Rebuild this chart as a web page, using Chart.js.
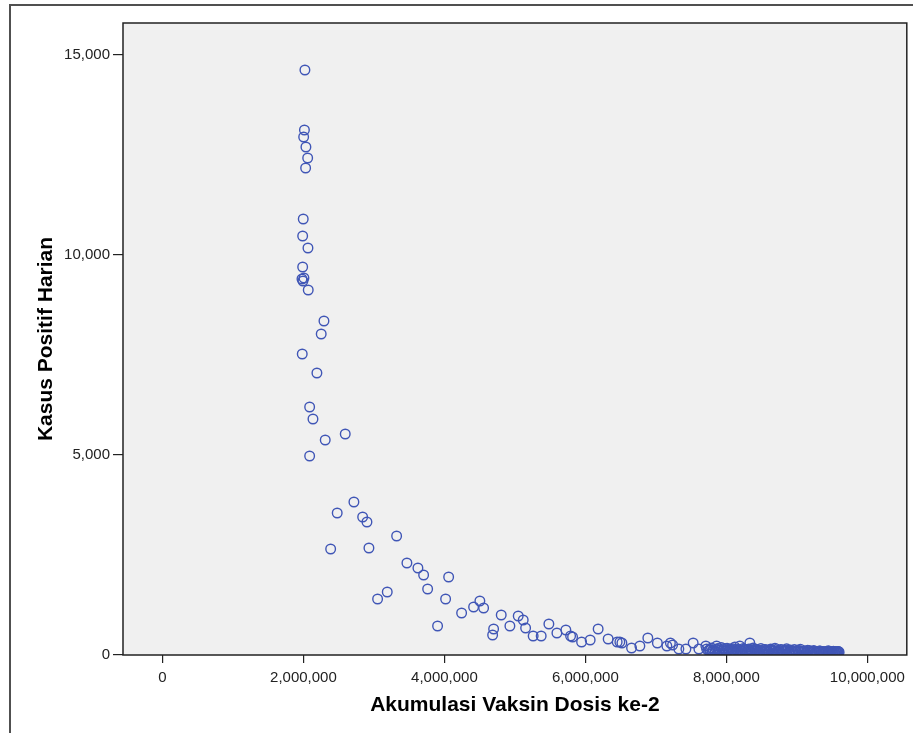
<!DOCTYPE html>
<html>
<head>
<meta charset="utf-8">
<script src="https://cdn.jsdelivr.net/npm/chart.js@4/dist/chart.umd.min.js"></script>
<style>
	html, body { margin: 0; padding: 0; background: #fff; }
	canvas { display: block; }
</style>
</head>
<body>
<canvas id="grafik" width="913" height="733"></canvas>
<script>
// [akumulasi vaksin dosis ke-2, kasus positif harian]
const puncak = [
	[2021000, 14625], [2014000, 13125], [2003000, 12950], [2035000, 12700], [2060000, 12425],
	[2031000, 12175], [1997000, 10900], [1989000, 10475], [2064000, 10175], [1989000, 9700],
	[1979000, 9400], [2007000, 9425], [1993000, 9350], [2068000, 9125], [2291000, 8350],
	[2252000, 8025], [1983000, 7525], [2191000, 7050], [2088000, 6200], [2135000, 5900],
	[2309000, 5375], [2593000, 5525], [2088000, 4975]
];

const penurunan = [
	[2386000, 2650], [2479000, 3550], [2716000, 3825], [2840000, 3450], [2901000, 3325],
	[2929000, 2675], [3322000, 2975], [3052000, 1400], [3189000, 1575], [3468000, 2300],
	[3624000, 2175], [3705000, 2000], [3762000, 1650], [4060000, 1950], [4017000, 1400],
	[3903000, 725], [4244000, 1050], [4414000, 1200], [4503000, 1350], [4556000, 1175],
	[4806000, 1000], [4698000, 650], [4684000, 500], [4929000, 725], [5047000, 975],
	[5118000, 875], [5152000, 675], [5259000, 475], [5373000, 475], [5482000, 775],
	[5596000, 550], [5723000, 625], [5790000, 475], [5818000, 450], [5946000, 325],
	[6068000, 375], [6181000, 650], [6323000, 400], [6451000, 325], [6489000, 325],
	[6518000, 300], [6655000, 175], [6773000, 225], [6886000, 425], [7021000, 300],
	[7156000, 225], [7206000, 300], [7237000, 250], [7326000, 150], [7426000, 150],
	[7529000, 300], [7610000, 150], [7709000, 225], [7773000, 125], [7861000, 225],
	[8191000, 225], [8333000, 300]
];

const ekor = [
	[7720000, 150], [7745000, 110], [7790000, 175], [7815000, 130], [7840000, 95],
	[7880000, 160], [7905000, 120], [7930000, 185], [7960000, 140], [7985000, 105],
	[8010000, 170], [8040000, 125], [8065000, 90], [8090000, 155], [8120000, 200],
	[8150000, 115], [8175000, 145], [8210000, 100], [8240000, 165], [8265000, 130],
	[8290000, 85], [8320000, 150], [8350000, 120], [8380000, 175], [8405000, 95],
	[8435000, 140], [8460000, 110], [8490000, 160], [8520000, 80], [8545000, 135],
	[8575000, 125], [8600000, 95], [8630000, 150], [8660000, 105], [8690000, 170],
	[8715000, 85], [8745000, 120], [8770000, 140], [8800000, 90], [8830000, 115],
	[8855000, 155], [8885000, 80], [8910000, 125], [8940000, 100], [8965000, 135],
	[8995000, 70], [9020000, 110], [9050000, 145], [9075000, 90], [9100000, 100],
	[9130000, 65], [9155000, 120], [9185000, 85], [9210000, 95], [9240000, 110],
	[9265000, 75], [9290000, 60], [9320000, 100], [9345000, 80], [9370000, 90],
	[9395000, 55], [9420000, 75], [9445000, 105], [9465000, 60], [9485000, 85],
	[9505000, 70], [9520000, 95], [9540000, 55], [9555000, 80], [9570000, 65],
	[9585000, 90], [9600000, 70]
];

const ekor2 = [
	[7760000, 130], [7800000, 95], [7860000, 145], [7895000, 110], [7945000, 120],
	[7970000, 165], [8000000, 100], [8025000, 135], [8055000, 150], [8080000, 115],
	[8105000, 90], [8135000, 140], [8165000, 105], [8195000, 125], [8225000, 95],
	[8255000, 150], [8280000, 115], [8305000, 135], [8335000, 90], [8365000, 110],
	[8395000, 145], [8420000, 125], [8450000, 85], [8475000, 115], [8505000, 100],
	[8535000, 140], [8560000, 110], [8590000, 75], [8615000, 125], [8645000, 95],
	[8675000, 115], [8700000, 140], [8730000, 100], [8760000, 80], [8785000, 130],
	[8815000, 95], [8845000, 105], [8870000, 120], [8895000, 90], [8925000, 110],
	[8950000, 75], [8980000, 95], [9010000, 120], [9035000, 85], [9060000, 105],
	[9090000, 75], [9115000, 100], [9145000, 90], [9170000, 110], [9195000, 70],
	[9225000, 85], [9250000, 95], [9280000, 70], [9305000, 85], [9330000, 100],
	[9360000, 65], [9385000, 80], [9410000, 90], [9435000, 70], [9455000, 95],
	[9475000, 60], [9495000, 80], [9515000, 65], [9530000, 75], [9548000, 90],
	[9562000, 60], [9578000, 75], [9592000, 85]
];

const xTicks = [0, 2000000, 4000000, 6000000, 8000000, 10000000];
const yTicks = [0, 5000, 10000, 15000];

const judulX = 'Akumulasi Vaksin Dosis ke-2';
const judulY = 'Kasus Positif Harian';

const titik = puncak.concat(penurunan, ekor, ekor2).map(p => ({x: p[0], y: p[1]}));

const bingkai = {
	id: 'bingkai',
	beforeDraw(chart){
		const {ctx, chartArea: a} = chart;
		ctx.save();
		ctx.fillStyle = '#fff';
		ctx.fillRect(0, 0, chart.width, chart.height);
		// frame of the output window
		ctx.strokeStyle = '#505050';
		ctx.lineWidth = 2;
		ctx.beginPath();
		ctx.moveTo(10, chart.height);
		ctx.lineTo(10, 5);
		ctx.lineTo(chart.width, 5);
		ctx.stroke();
		ctx.fillStyle = '#f0f0f0';
		ctx.fillRect(a.left, a.top, a.right - a.left, a.bottom - a.top);
		ctx.restore();
	},
	afterDraw(chart){
		const {ctx, chartArea: a} = chart;
		ctx.save();
		ctx.strokeStyle = '#222';
		ctx.lineWidth = 1.5;
		ctx.strokeRect(a.left, a.top, a.right - a.left, a.bottom - a.top);
		ctx.restore();
	}
};

const fmt = v => Number(v).toLocaleString('en-US');
const fontTick = {family: 'Liberation Sans', size: 15};
const fontJudul = {family: 'Liberation Sans', size: 21, weight: 'bold'};

new Chart(document.getElementById('grafik'), {
	type: 'scatter',
	data: {
		datasets: [{
			label: judulY,
			data: titik,
			pointStyle: 'circle',
			pointRadius: 4.8,
			pointBorderWidth: 1.4,
			borderColor: 'rgb(64,86,182)',
			backgroundColor: 'rgba(0,0,0,0)'
		}]
	},
	options: {
		responsive: false,
		animation: false,
		events: [],
		layout: {padding: {top: 23, right: 6, left: 0, bottom: 0}},
		plugins: {legend: {display: false}, tooltip: {enabled: false}},
		scales: {
			x: {
				type: 'linear',
				min: -560000,
				max: 10560000,
				afterBuildTicks: s => { s.ticks = xTicks.map(v => ({value: v})); },
				afterFit: s => { s.height = 78; },
				border: {display: false},
				grid: {drawOnChartArea: false, drawTicks: true, tickLength: 8, color: '#222', lineWidth: 1.2},
				ticks: {font: fontTick, color: '#222', padding: 6, maxRotation: 0, callback: fmt},
				title: {display: true, text: judulX, font: fontJudul, color: '#000', padding: {top: 15, bottom: 15}}
			},
			y: {
				type: 'linear',
				min: 0,
				max: 15800,
				afterBuildTicks: s => { s.ticks = yTicks.map(v => ({value: v})); },
				afterFit: s => { s.width = 123; },
				border: {display: false},
				grid: {drawOnChartArea: false, drawTicks: true, tickLength: 10, color: '#222', lineWidth: 1.2},
				ticks: {font: fontTick, color: '#222', padding: 3, callback: fmt},
				title: {display: true, text: judulY, font: fontJudul, color: '#000', padding: {top: 34, bottom: 0}}
			}
		}
	},
	plugins: [bingkai]
});
</script>
</body>
</html>
